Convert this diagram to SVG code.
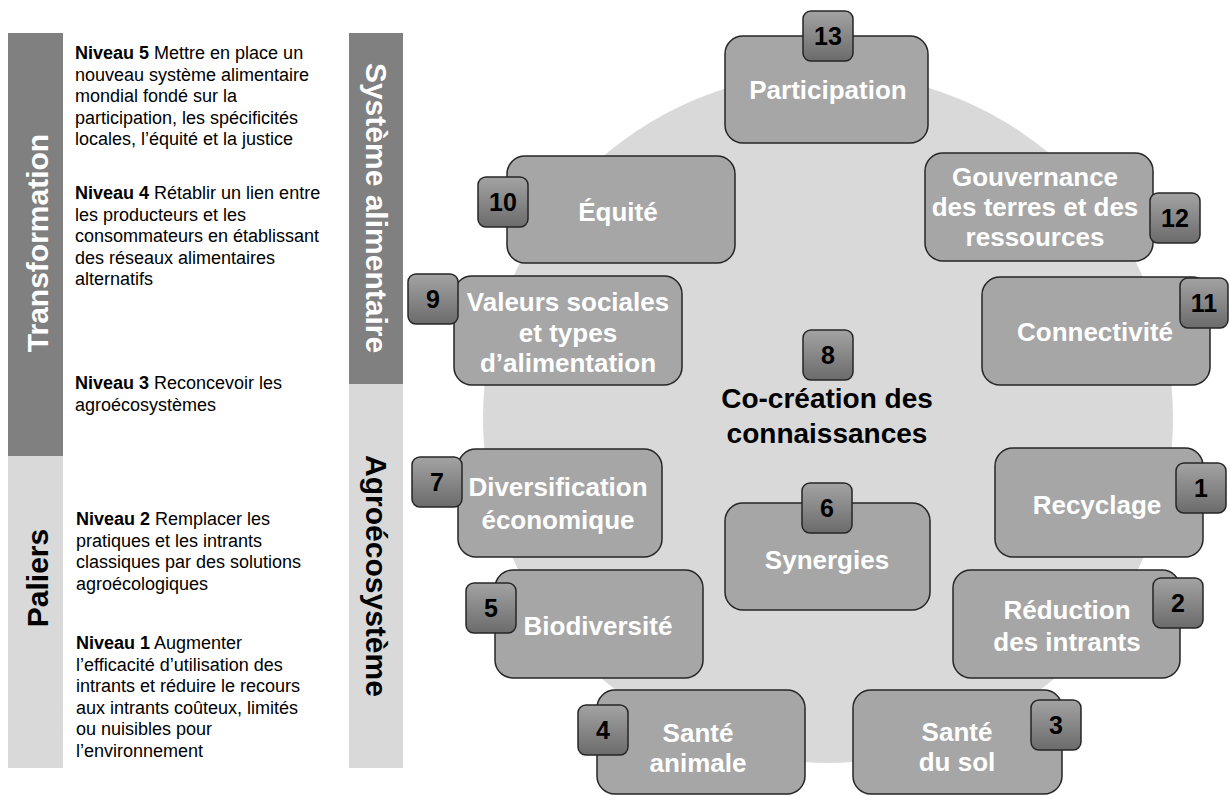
<svg xmlns="http://www.w3.org/2000/svg" width="1229" height="796" viewBox="0 0 1229 796">
<defs>
<linearGradient id="numg" x1="0" y1="0" x2="0" y2="1">
<stop offset="0" stop-color="#a3a3a3"/>
<stop offset="1" stop-color="#6b6b6b"/>
</linearGradient>
<style>
.body{font-family:"Liberation Sans",Arial,sans-serif;font-size:18px;fill:#000}
.b{font-weight:bold}
.vlab{font-family:"Liberation Sans",Arial,sans-serif;font-size:30px;font-weight:bold}
.node{fill:#a6a6a6;stroke:#262626;stroke-width:1.5}
.num{fill:url(#numg);stroke:#262626;stroke-width:1.5}
.nt{font-family:"Liberation Sans",Arial,sans-serif;font-size:26px;font-weight:bold;fill:#fff;text-anchor:middle}
.dt{font-family:"Liberation Sans",Arial,sans-serif;font-size:25px;font-weight:bold;fill:#000;text-anchor:middle}
</style>
</defs>
<rect width="1229" height="796" fill="#fff"/>

<g id="left-bar">
<rect x="8" y="33" width="55" height="423" fill="#808080"/>
<rect x="8" y="456" width="55" height="312" fill="#d9d9d9"/>
<text class="vlab" fill="#fff" text-anchor="middle" transform="translate(48,243) rotate(-90)">Transformation</text>
<text class="vlab" fill="#000" text-anchor="middle" transform="translate(48,578) rotate(-90)">Paliers</text>
</g>

<g id="levels">
<text class="body" x="75" y="59"><tspan class="b">Niveau 5</tspan> Mettre en place un</text>
<text class="body" x="75" y="80.6">nouveau système alimentaire</text>
<text class="body" x="75" y="102.2">mondial fondé sur la</text>
<text class="body" x="75" y="123.8">participation, les spécificités</text>
<text class="body" x="75" y="145.4">locales, l’équité et la justice</text>

<text class="body" x="75" y="199"><tspan class="b">Niveau 4</tspan> Rétablir un lien entre</text>
<text class="body" x="75" y="220.6">les producteurs et les</text>
<text class="body" x="75" y="242.2">consommateurs en établissant</text>
<text class="body" x="75" y="263.8">des réseaux alimentaires</text>
<text class="body" x="75" y="285.4">alternatifs</text>

<text class="body" x="75" y="389"><tspan class="b">Niveau 3</tspan> Reconcevoir les</text>
<text class="body" x="75" y="410.6">agroécosystèmes</text>

<text class="body" x="76" y="525"><tspan class="b">Niveau 2</tspan> Remplacer les</text>
<text class="body" x="76" y="546.6">pratiques et les intrants</text>
<text class="body" x="76" y="568.2">classiques par des solutions</text>
<text class="body" x="76" y="589.8">agroécologiques</text>

<text class="body" x="76" y="649"><tspan class="b">Niveau 1</tspan> Augmenter</text>
<text class="body" x="76" y="670.6">l’efficacité d’utilisation des</text>
<text class="body" x="76" y="692.2">intrants et réduire le recours</text>
<text class="body" x="76" y="713.8">aux intrants coûteux, limités</text>
<text class="body" x="76" y="735.4">ou nuisibles pour</text>
<text class="body" x="76" y="757">l’environnement</text>
</g>

<g id="scale-bar">
<rect x="349" y="33" width="54" height="351" fill="#808080"/>
<rect x="349" y="384" width="54" height="384" fill="#d9d9d9"/>
<text class="vlab" fill="#fff" text-anchor="middle" transform="translate(366,208) rotate(90)">Système alimentaire</text>
<text class="vlab" fill="#000" text-anchor="middle" transform="translate(366,576) rotate(90)">Agroécosystème</text>
</g>

<circle id="background-circle" cx="828" cy="418" r="345" fill="#d9d9d9"/>

<g id="n8">
<rect class="num" x="803" y="330" width="50" height="50" rx="8"/>
<text class="dt" x="828" y="364">8</text>
<text x="827" y="408" font-family="Liberation Sans, Arial, sans-serif" font-size="28" font-weight="bold" text-anchor="middle">Co-création des</text>
<text x="827" y="443" font-family="Liberation Sans, Arial, sans-serif" font-size="28" font-weight="bold" text-anchor="middle">connaissances</text>
</g>

<g id="n13">
<rect class="node" x="725" y="36" width="203" height="107" rx="18"/>
<text class="nt" x="828" y="99">Participation</text>
<rect class="num" x="803" y="11" width="50" height="50" rx="8"/>
<text class="dt" x="828" y="45">13</text>
</g>

<g id="n10">
<rect class="node" x="507" y="156" width="228" height="107" rx="18"/>
<text class="nt" x="618" y="221">Équité</text>
<rect class="num" x="478" y="177" width="50" height="50" rx="8"/>
<text class="dt" x="503" y="211">10</text>
</g>

<g id="n12">
<rect class="node" x="925" y="153" width="228" height="108" rx="18"/>
<text class="nt" x="1035" y="186">Gouvernance</text>
<text class="nt" x="1035" y="216">des terres et des</text>
<text class="nt" x="1035" y="246">ressources</text>
<rect class="num" x="1150" y="193" width="50" height="50" rx="8"/>
<text class="dt" x="1175" y="227">12</text>
</g>

<g id="n11">
<rect class="node" x="982" y="277" width="228" height="108" rx="18"/>
<text class="nt" x="1095" y="341">Connectivité</text>
<rect class="num" x="1180" y="278" width="48" height="50" rx="8"/>
<text class="dt" x="1204" y="312">11</text>
</g>

<g id="n9">
<rect class="node" x="454" y="276" width="228" height="109" rx="18"/>
<text class="nt" x="568" y="311">Valeurs sociales</text>
<text class="nt" x="568" y="342">et types</text>
<text class="nt" x="568" y="372">d’alimentation</text>
<rect class="num" x="408" y="274" width="50" height="50" rx="8"/>
<text class="dt" x="433" y="308">9</text>
</g>

<g id="n7">
<rect class="node" x="458" y="449" width="204" height="108" rx="18"/>
<text class="nt" x="558" y="496">Diversification</text>
<text class="nt" x="558" y="529">économique</text>
<rect class="num" x="412" y="457" width="50" height="50" rx="8"/>
<text class="dt" x="437" y="491">7</text>
</g>

<g id="n6">
<rect class="node" x="725" y="503" width="205" height="107" rx="18"/>
<text class="nt" x="827" y="569">Synergies</text>
<rect class="num" x="802" y="483" width="50" height="50" rx="8"/>
<text class="dt" x="827" y="517">6</text>
</g>

<g id="n1">
<rect class="node" x="995" y="448" width="208" height="109" rx="18"/>
<text class="nt" x="1097" y="514">Recyclage</text>
<rect class="num" x="1176" y="463" width="50" height="50" rx="8"/>
<text class="dt" x="1201" y="497">1</text>
</g>

<g id="n5">
<rect class="node" x="495" y="570" width="208" height="108" rx="18"/>
<text class="nt" x="598" y="635">Biodiversité</text>
<rect class="num" x="466" y="583" width="50" height="50" rx="8"/>
<text class="dt" x="491" y="617">5</text>
</g>

<g id="n2">
<rect class="node" x="953" y="570" width="227" height="108" rx="18"/>
<text class="nt" x="1067" y="619">Réduction</text>
<text class="nt" x="1067" y="651">des intrants</text>
<rect class="num" x="1153" y="578" width="50" height="50" rx="8"/>
<text class="dt" x="1178" y="612">2</text>
</g>

<g id="n4">
<rect class="node" x="597" y="690" width="208" height="104" rx="18"/>
<text class="nt" x="698" y="742">Santé</text>
<text class="nt" x="698" y="772">animale</text>
<rect class="num" x="578" y="705" width="50" height="50" rx="8"/>
<text class="dt" x="603" y="739">4</text>
</g>

<g id="n3">
<rect class="node" x="853" y="690" width="209" height="104" rx="18"/>
<text class="nt" x="957" y="741">Santé</text>
<text class="nt" x="957" y="771">du sol</text>
<rect class="num" x="1031" y="700" width="50" height="50" rx="8"/>
<text class="dt" x="1056" y="734">3</text>
</g>
</svg>
